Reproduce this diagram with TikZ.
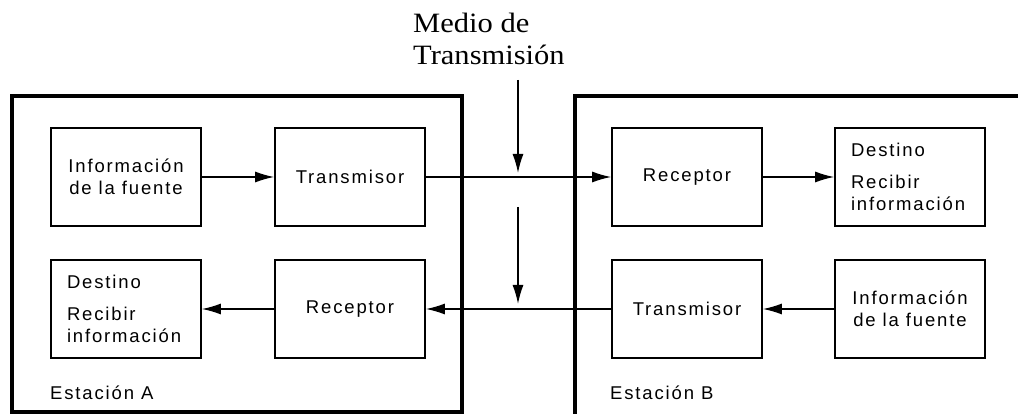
\documentclass[tikz,border=0pt]{standalone}
\usepackage{fontspec}
\setmainfont{Liberation Sans}[LetterSpace=10]
\newfontfamily\titlefont{Liberation Serif}[FakeStretch=1.09]
\usetikzlibrary{arrows.meta}
\begin{document}
\begin{tikzpicture}[x=1pt,y=-1pt,
  blk/.style={draw, line width=1.6pt, minimum width=150pt, minimum height=98pt,
    inner sep=0pt, align=center, font=\fontsize{18.5}{22}\selectfont},
  dst/.style={blk, align=left, text width=118pt},
  station/.style={draw, line width=3.5pt},
  arr/.style={line width=1.5pt, -{Latex[length=19pt,width=11pt]}},
  lbl/.style={inner sep=0pt, font=\fontsize{18.5}{22}\selectfont},
  ttl/.style={inner sep=0pt, font=\titlefont\fontsize{28}{32}\selectfont}]
\useasboundingbox (0,0) rectangle (1018,414);
\fill[white] (0,0) rectangle (1018,414);

% stations
\draw[station] (12,96) rectangle (462,412);
\draw[station] (1030,96) -- (575,96) -- (575,430);

% boxes station A
\node[blk] (iA) at (126,177) {Información\\de la fuente};
\node[blk] (tA) at (350,177) {Transmisor};
\node[dst] (dA) at (126,309) {Destino\\[10pt]Recibir\\información};
\node[blk] (rA) at (350,309) {Receptor};

% boxes station B
\node[blk] (rB) at (687,177) {Receptor};
\node[dst] (dB) at (910,177) {Destino\\[10pt]Recibir\\información};
\node[blk] (tB) at (687,309) {Transmisor};
\node[blk] (iB) at (910,309) {Información\\de la fuente};

% labels
\node[lbl, anchor=west] (sA) at (50,393) {Estación A};
\node[lbl, anchor=west] (sB) at (610,393) {Estación B};
\node[ttl, anchor=base west] (m1) at (413,33) {Medio de};
\node[ttl, anchor=base west] (m2) at (413,65) {Transmisión};

% connectors
\draw[arr] (iA) -- (tA);
\draw[arr] (tA) -- (rB);
\draw[arr] (rB) -- (dB);
\draw[arr] (iB) -- (tB);
\draw[arr] (tB) -- (rA);
\draw[arr] (rA) -- (dA);

% medium arrows
\coordinate (a1s) at (518,80);
\coordinate (a1e) at (518,173);
\coordinate (a2s) at (518,207);
\coordinate (a2e) at (518,304);
\draw[arr] (a1s) -- (a1e);
\draw[arr] (a2s) -- (a2e);
\end{tikzpicture}
\end{document}
